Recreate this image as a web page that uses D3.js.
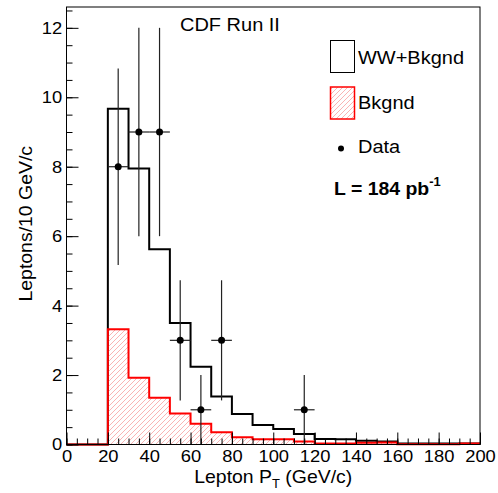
<!DOCTYPE html>
<html>
<head>
<meta charset="utf-8">
<script src="https://cdn.jsdelivr.net/npm/d3@7"></script>
<style>
body { margin: 0; background: #fff; }
svg text { font-family: "Liberation Sans", Arial, Helvetica, sans-serif; }
</style>
</head>
<body>
<script>
// bins of 10 GeV/c, from 0 to 200
var binLow = [0, 10, 20, 30, 40, 50, 60, 70, 80, 90, 100, 110, 120, 130, 140, 150, 160, 170, 180, 190];
var wwBkg = [0, 0, 9.67, 7.95, 5.62, 3.5, 2.24, 1.38, 0.88, 0.56, 0.45, 0.30, 0.16, 0.15, 0.11, 0.09, 0.03, 0.03, 0.03, 0.03];
var bkg = [0, 0, 3.32, 1.92, 1.35, 0.89, 0.60, 0.35, 0.21, 0.15, 0.15, 0.09, 0.03, 0.03, 0.05, 0.06, 0.01, 0.01, 0.01, 0.03];

var dataX = [25, 35, 45, 55, 65, 75, 115];
var dataN = [8, 9, 9, 3, 1, 3, 1];
var dataErr = [2.83, 3, 3, 1.73, 1, 1.73, 1];

var xTicks = [0, 20, 40, 60, 80, 100, 120, 140, 160, 180, 200];
var yTicks = [0, 2, 4, 6, 8, 10, 12];

var W = 498, H = 493;
var margin = {top: 7, right: 18, bottom: 48.5, left: 66.5};
var x = d3.scaleLinear().domain([0, 200]).range([margin.left, W - margin.right]);
var y = d3.scaleLinear().domain([0, 12.6]).range([H - margin.bottom, margin.top]);

var svg = d3.select("body").append("svg")
    .attr("width", W)
    .attr("height", H);

// the reference font is a bit wider than Arial, stretch text horizontally
var stretch = 1.08;
function wide(sel) {
    sel.attr("transform", function() {
        var t = d3.select(this), tx = +t.attr("x"), ty = +t.attr("y");
        return "translate(" + tx + "," + ty + ") scale(" + stretch + ",1) translate(" + (-tx) + "," + (-ty) + ")";
    });
}

var defs = svg.append("defs");
var pat = defs.append("pattern")
    .attr("id", "hatch")
    .attr("patternUnits", "userSpaceOnUse")
    .attr("width", 5)
    .attr("height", 5);
pat.append("path")
    .attr("d", "M-1,1 l2,-2 M0,5 l5,-5 M4,6 l2,-2")
    .attr("stroke", "#f26060")
    .attr("stroke-opacity", 0.6)
    .attr("stroke-width", 0.8);

// step series: every bin edge plus the final edge
function steps(vals) {
    var pts = binLow.map(function(b, i) { return [b, vals[i]]; });
    pts.push([200, vals[vals.length - 1]]);
    return pts;
}

var line = d3.line()
    .x(function(d) { return x(d[0]); })
    .y(function(d) { return y(d[1]); })
    .curve(d3.curveStepAfter);
var area = d3.area()
    .x(function(d) { return x(d[0]); })
    .y0(y(0))
    .y1(function(d) { return y(d[1]); })
    .curve(d3.curveStepAfter);

svg.append("path")
    .datum(steps(wwBkg))
    .attr("d", line)
    .attr("fill", "none")
    .attr("stroke", "#000")
    .attr("stroke-width", 2);

svg.append("path")
    .datum(steps(bkg))
    .attr("d", area)
    .attr("fill", "url(#hatch)");
svg.append("path")
    .datum(steps(bkg))
    .attr("d", line)
    .attr("fill", "none")
    .attr("stroke", "#ff0000")
    .attr("stroke-width", 2);

// data points with errors
var pts = svg.append("g").selectAll("g")
    .data(dataX.map(function(d, i) { return {x: d, n: dataN[i], e: dataErr[i]}; }))
    .enter().append("g");
pts.append("line")
    .attr("x1", function(d) { return x(d.x - 5); })
    .attr("x2", function(d) { return x(d.x + 5); })
    .attr("y1", function(d) { return y(d.n); })
    .attr("y2", function(d) { return y(d.n); })
    .attr("stroke", "#222")
    .attr("stroke-width", 1.2);
pts.append("line")
    .attr("x1", function(d) { return x(d.x); })
    .attr("x2", function(d) { return x(d.x); })
    .attr("y1", function(d) { return y(d.n + d.e); })
    .attr("y2", function(d) { return y(d.n - d.e); })
    .attr("stroke", "#222")
    .attr("stroke-width", 1.2);
pts.append("circle")
    .attr("cx", function(d) { return x(d.x); })
    .attr("cy", function(d) { return y(d.n); })
    .attr("r", 3.5)
    .attr("fill", "#000");

// axes, ticks pointing inside
var xAxis = d3.axisBottom(x).tickValues(xTicks).tickSize(-12).tickPadding(5.5).tickFormat(d3.format("d"));
var xMinor = d3.axisBottom(x).tickValues(d3.range(0, 201, 5)).tickSize(-6).tickFormat("");
var yAxis = d3.axisLeft(y).tickValues(yTicks).tickSize(-12).tickPadding(4).tickFormat(d3.format("d"));
var yMinor = d3.axisLeft(y).tickValues(d3.range(0, 12.6, 0.5)).tickSize(-6).tickFormat("");

function styleAxis(g) {
    g.select(".domain").remove();
    g.selectAll("line").attr("stroke", "#000");
    g.selectAll("text").attr("font-size", 17).attr("fill", "#000")
        .attr("font-family", "Liberation Sans, Arial, sans-serif")
        .attr("transform", "scale(" + stretch + ",1)");
}
svg.append("g").attr("transform", "translate(0," + y(0) + ")").call(xMinor).call(styleAxis);
svg.append("g").attr("transform", "translate(0," + y(0) + ")").call(xAxis).call(styleAxis);
svg.append("g").attr("transform", "translate(" + x(0) + ",0)").call(yMinor).call(styleAxis);
svg.append("g").attr("transform", "translate(" + x(0) + ",0)").call(yAxis).call(styleAxis);

// frame
svg.append("rect")
    .attr("x", x(0))
    .attr("y", y(12.6))
    .attr("width", x(200) - x(0))
    .attr("height", y(0) - y(12.6))
    .attr("fill", "none")
    .attr("stroke", "#000")
    .attr("stroke-width", 1);

// titles
var xt = svg.append("text")
    .attr("x", (x(0) + x(200)) / 2)
    .attr("y", 483)
    .attr("text-anchor", "middle")
    .attr("font-size", 18)
    .call(wide);
xt.append("tspan").text("Lepton P");
xt.append("tspan").attr("font-size", 12).attr("dy", 5).text("T");
xt.append("tspan").attr("dy", -5).text(" (GeV/c)");

svg.append("text")
    .attr("transform", "translate(32," + ((y(0) + y(12.6)) / 2 - 2) + ") rotate(-90) scale(" + stretch + ",1)")
    .attr("text-anchor", "middle")
    .attr("font-size", 18)
    .text("Leptons/10 GeV/c");

svg.append("text")
    .attr("x", 180)
    .attr("y", 31)
    .attr("font-size", 18.5)
    .text("CDF Run II")
    .call(wide);

// legend
var leg = svg.append("g");
leg.append("rect").attr("x", 330.5).attr("y", 40.5).attr("width", 24).attr("height", 32)
    .attr("fill", "#fff").attr("stroke", "#000").attr("stroke-width", 1);
leg.append("text").attr("x", 358).attr("y", 64).attr("font-size", 18.5).text("WW+Bkgnd").call(wide);
leg.append("rect").attr("x", 330.5).attr("y", 87).attr("width", 24).attr("height", 32)
    .attr("fill", "url(#hatch)").attr("stroke", "#ff0000").attr("stroke-width", 1.5);
leg.append("text").attr("x", 358).attr("y", 109.5).attr("font-size", 18.5).text("Bkgnd").call(wide);
leg.append("circle").attr("cx", 341).attr("cy", 148.5).attr("r", 3).attr("fill", "#000");
leg.append("text").attr("x", 358).attr("y", 153).attr("font-size", 18.5).text("Data").call(wide);
var lum = leg.append("text").attr("x", 334).attr("y", 195).attr("font-size", 18).attr("font-weight", "bold").call(wide);
lum.append("tspan").text("L = 184 pb");
lum.append("tspan").attr("font-size", 12).attr("dy", -9).text("-1");
</script>
</body>
</html>
